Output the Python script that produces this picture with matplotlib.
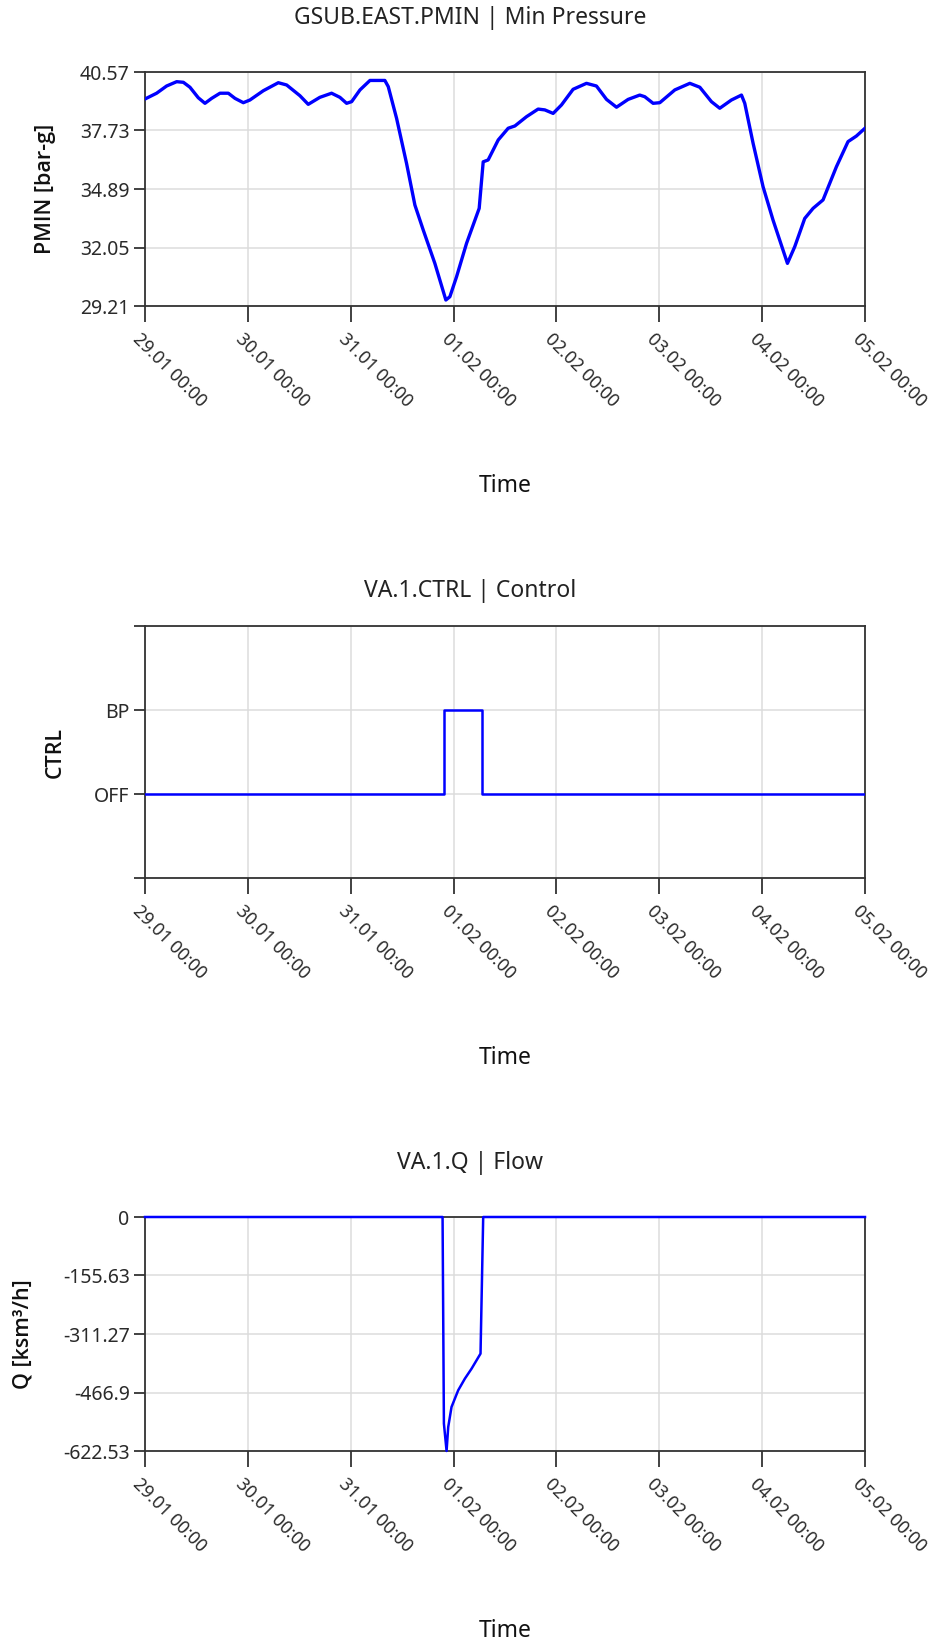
import numpy as np
import matplotlib
matplotlib.use('Agg')
import matplotlib.pyplot as plt
from matplotlib.transforms import ScaledTranslation

plt.rcParams['font.family'] = ['Noto Sans', 'DejaVu Sans']

# time axis in days from 29.01 00:00
day_labels = ['29.01 00:00', '30.01 00:00', '31.01 00:00', '01.02 00:00',
              '02.02 00:00', '03.02 00:00', '04.02 00:00', '05.02 00:00']

# GSUB.EAST.PMIN
pmin_t = [0.0, 0.113, 0.21, 0.308, 0.373, 0.437, 0.518, 0.583, 0.648, 0.729,
          0.81, 0.875, 0.956, 1.02, 1.15, 1.296, 1.377, 1.506, 1.587, 1.70,
          1.814, 1.895, 1.96, 2.009, 2.09, 2.187, 2.332, 2.365, 2.446, 2.543,
          2.624, 2.705, 2.818, 2.925, 2.964, 3.029, 3.126, 3.249, 3.288, 3.336,
          3.434, 3.531, 3.596, 3.709, 3.822, 3.887, 3.968, 4.049, 4.162, 4.292,
          4.389, 4.487, 4.584, 4.697, 4.810, 4.859, 4.94, 5.005, 5.151, 5.297,
          5.394, 5.507, 5.588, 5.701, 5.799, 5.831, 5.912, 6.009, 6.106, 6.246,
          6.317, 6.414, 6.495, 6.592, 6.722, 6.835, 6.916, 7.0]
pmin_v = [39.26, 39.54, 39.89, 40.10, 40.07, 39.83, 39.32, 39.05, 39.29, 39.54,
          39.54, 39.29, 39.08, 39.21, 39.66, 40.05, 39.94, 39.42, 39.00, 39.34,
          39.54, 39.34, 39.05, 39.13, 39.70, 40.16, 40.16, 39.86, 38.32, 36.13,
          34.11, 32.90, 31.28, 29.50, 29.66, 30.63, 32.25, 33.95, 36.21, 36.30,
          37.27, 37.84, 37.95, 38.40, 38.77, 38.73, 38.56, 38.97, 39.73, 40.02,
          39.89, 39.24, 38.86, 39.24, 39.45, 39.37, 39.05, 39.08, 39.70, 40.02,
          39.83, 39.13, 38.81, 39.21, 39.45, 39.05, 37.11, 35.00, 33.38, 31.28,
          32.09, 33.46, 33.95, 34.36, 35.97, 37.19, 37.46, 37.84]
pmin_ticks = [29.21, 32.05, 34.89, 37.73, 40.57]

# VA.1.CTRL (0 = OFF, 1 = BP)
ctrl_t = [0.0, 2.91, 3.28, 7.0]
ctrl_v = [0, 1, 0, 0]
ctrl_ticks = [-1, 0, 1, 2]
ctrl_labels = ['', 'OFF', 'BP', '']

# VA.1.Q
q_t = [0.0, 2.893, 2.906, 2.932, 2.948, 2.98, 3.045, 3.11, 3.175, 3.262, 3.288, 7.0]
q_v = [0, 0, -549.6, -622.53, -558.7, -505.5, -461.0, -430.0, -403.5, -363.5, 0, 0]
q_ticks = [-622.53, -466.9, -311.27, -155.63, 0]

W, H = 940, 1644
fig = plt.figure(figsize=(W / 100, H / 100), dpi=100)

def box(top, bottom):
    return [145 / W, 1 - bottom / H, 720 / W, (bottom - top) / H]

ax1 = fig.add_axes(box(72, 306))
ax2 = fig.add_axes(box(626, 878))
ax3 = fig.add_axes(box(1217, 1451))

blue = '#0000ff'
ax1.plot(pmin_t, pmin_v, color=blue, lw=2.4, solid_joinstyle='round', zorder=3)
ax2.plot(ctrl_t, ctrl_v, color=blue, lw=1.8, drawstyle='steps-post', zorder=3)
ax3.plot(q_t, q_v, color=blue, lw=1.8, zorder=3, clip_on=False)

ax1.set_ylim(pmin_ticks[0], pmin_ticks[-1])
ax1.set_yticks(pmin_ticks)
ax1.set_yticklabels(['%.2f' % v for v in pmin_ticks])
ax2.set_ylim(-1, 2)
ax2.set_yticks(ctrl_ticks)
ax2.set_yticklabels(ctrl_labels)
ax3.set_ylim(q_ticks[0], q_ticks[-1])
ax3.set_yticks(q_ticks)
ax3.set_yticklabels(['%g' % v for v in q_ticks])

titles = ['GSUB.EAST.PMIN | Min Pressure', 'VA.1.CTRL | Control', 'VA.1.Q | Flow']
title_y = [18, 591, 1163]
ylabels = ['PMIN [bar-g]', 'CTRL', 'Q [ksm³/h]']
ylabel_x = [45, 55, 23]

dark = '#333333'
for ax, t, ty, yl, yx in zip([ax1, ax2, ax3], titles, title_y, ylabels, ylabel_x):
    ax.set_xlim(0, 7)
    ax.set_xticks(range(len(day_labels)))
    ax.set_xticklabels(day_labels, rotation=-45, ha='left', va='top',
                       rotation_mode='anchor')
    ax.grid(True, color='#dcdcdc', lw=1.1)
    ax.set_axisbelow(True)
    for s in ax.spines.values():
        s.set_color(dark)
        s.set_linewidth(1.3)
        s.set_zorder(2.5)
    ax.tick_params(axis='x', length=11.5, width=1.3, color=dark, pad=5.5,
                   labelsize=12.8, labelcolor='#2a2a2a')
    ax.tick_params(axis='y', length=8, width=1.3, color=dark, pad=3,
                   labelsize=14, labelcolor='#2a2a2a')
    for lab in ax.get_xticklabels():
        lab.set_transform(lab.get_transform() + ScaledTranslation(-0.03, 0, fig.dpi_scale_trans))
    ax.set_ylabel(yl, fontsize=15.5, fontweight='semibold', color='#111111', va='center',
                  family=['Open Sans', 'DejaVu Sans'])
    ax.yaxis.set_label_coords((yx - 145) / 720, 0.5)
    ax.set_xlabel('Time', fontsize=16.5, color='#111111', va='center')
    ax.xaxis.set_label_coords(0.5, -180 / (ax.get_position().height * H))
    fig.text(0.5, 1 - ty / H, t, ha='center', va='center', fontsize=16.5, color='#222222')

fig.savefig('out.png', dpi=100, facecolor='white')
